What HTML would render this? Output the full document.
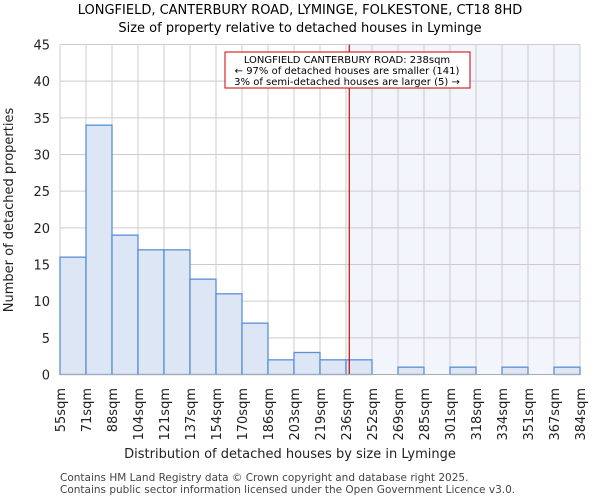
<!DOCTYPE html>
<html><head><meta charset="utf-8"><style>
body{margin:0;background:#fff;font-family:"DejaVu Sans","Liberation Sans",sans-serif}
</style></head><body>
<svg width="600" height="500" xmlns="http://www.w3.org/2000/svg" font-family="DejaVu Sans, Liberation Sans, sans-serif">
<g id="g"></g>
</svg>
<script>
const categories=["55sqm","71sqm","88sqm","104sqm","121sqm","137sqm","154sqm","170sqm","186sqm","203sqm","219sqm","236sqm","252sqm","269sqm","285sqm","301sqm","318sqm","334sqm","351sqm","367sqm","384sqm"];
const counts=[16,34,19,17,17,13,11,7,2,3,2,2,0,1,0,1,0,1,0,1];
const yTicks=[0,5,10,15,20,25,30,35,40,45];
const marker=238;
const NS="http://www.w3.org/2000/svg";
const g=document.getElementById('g');
const L=60,R=580,T=44.5,B=374.5,yMax=45;
const bw=(R-L)/counts.length;
const xs=i=>L+i*bw;
const ys=v=>B-(v/yMax)*(B-T);
const edgeVals=categories.map(c=>parseFloat(c));
function xv(v){for(let i=0;i<edgeVals.length-1;i++){if(v<=edgeVals[i+1])return xs(i)+(v-edgeVals[i])/(edgeVals[i+1]-edgeVals[i])*bw;}return R;}
function el(t,a,txt){const e=document.createElementNS(NS,t);for(const k in a)e.setAttribute(k,a[k]);if(txt!=null)e.textContent=txt;g.appendChild(e);return e;}
const mx=xv(marker);
let e=el('rect',{x:mx,y:T,width:R-mx,height:B-T,fill:'#f3f5fd'});


for(let i=0;i<=counts.length;i++){e=el('line',{x1:xs(i),x2:xs(i),y1:T,y2:B,stroke:'#cccccc'});}
yTicks.forEach(v=>{e=el('line',{x1:L,x2:R,y1:ys(v),y2:ys(v),stroke:'#cccccc'});
e=el('text',{x:L-10,y:ys(v)+5,'text-anchor':'end','font-size':13,fill:'#222'},v);});
counts.forEach((c,i)=>{if(c<=0)return;e=el('rect',{x:xs(i),y:ys(c),width:bw,height:B-ys(c),fill:'#dde6f4',stroke:'#5a8fd6','stroke-width':1.3});});
categories.forEach((c,i)=>{e=el('text',{transform:`translate(${xs(i)+5},388) rotate(-90)`,'text-anchor':'end','font-size':13,fill:'#222'},c);});
e=el('line',{x1:mx,x2:mx,y1:T,y2:B,stroke:'#cc0000','stroke-width':1.2});
e=el('rect',{x:225,y:52,width:245,height:36,fill:'#fff',stroke:'#cc0000'});
[["LONGFIELD CANTERBURY ROAD: 238sqm",63],["← 97% of detached houses are smaller (141)",74],["3% of semi-detached houses are larger (5) →",85]].forEach(([t,y])=>{e=el('text',{x:347,y:y,'text-anchor':'middle','font-size':10,fill:'#000'},t);});
e=el('line',{x1:L,x2:R,y1:B,y2:B,stroke:'#aaa'});
e=el('text',{x:300,y:14,'text-anchor':'middle','font-size':13,fill:'#000'},'LONGFIELD, CANTERBURY ROAD, LYMINGE, FOLKESTONE, CT18 8HD');
e=el('text',{x:300,y:32,'text-anchor':'middle','font-size':13,fill:'#000'},'Size of property relative to detached houses in Lyminge');
e=el('text',{x:290,y:458,'text-anchor':'middle','font-size':13,fill:'#222'},'Distribution of detached houses by size in Lyminge');
e=el('text',{transform:'translate(13,210) rotate(-90)','text-anchor':'middle','font-size':13,fill:'#222'},'Number of detached properties');
e=el('text',{x:60,y:481,'font-size':10.5,fill:'#444'},'Contains HM Land Registry data © Crown copyright and database right 2025.');
e=el('text',{x:60,y:493,'font-size':10.5,fill:'#444'},'Contains public sector information licensed under the Open Government Licence v3.0.');
</script>
</body></html>
